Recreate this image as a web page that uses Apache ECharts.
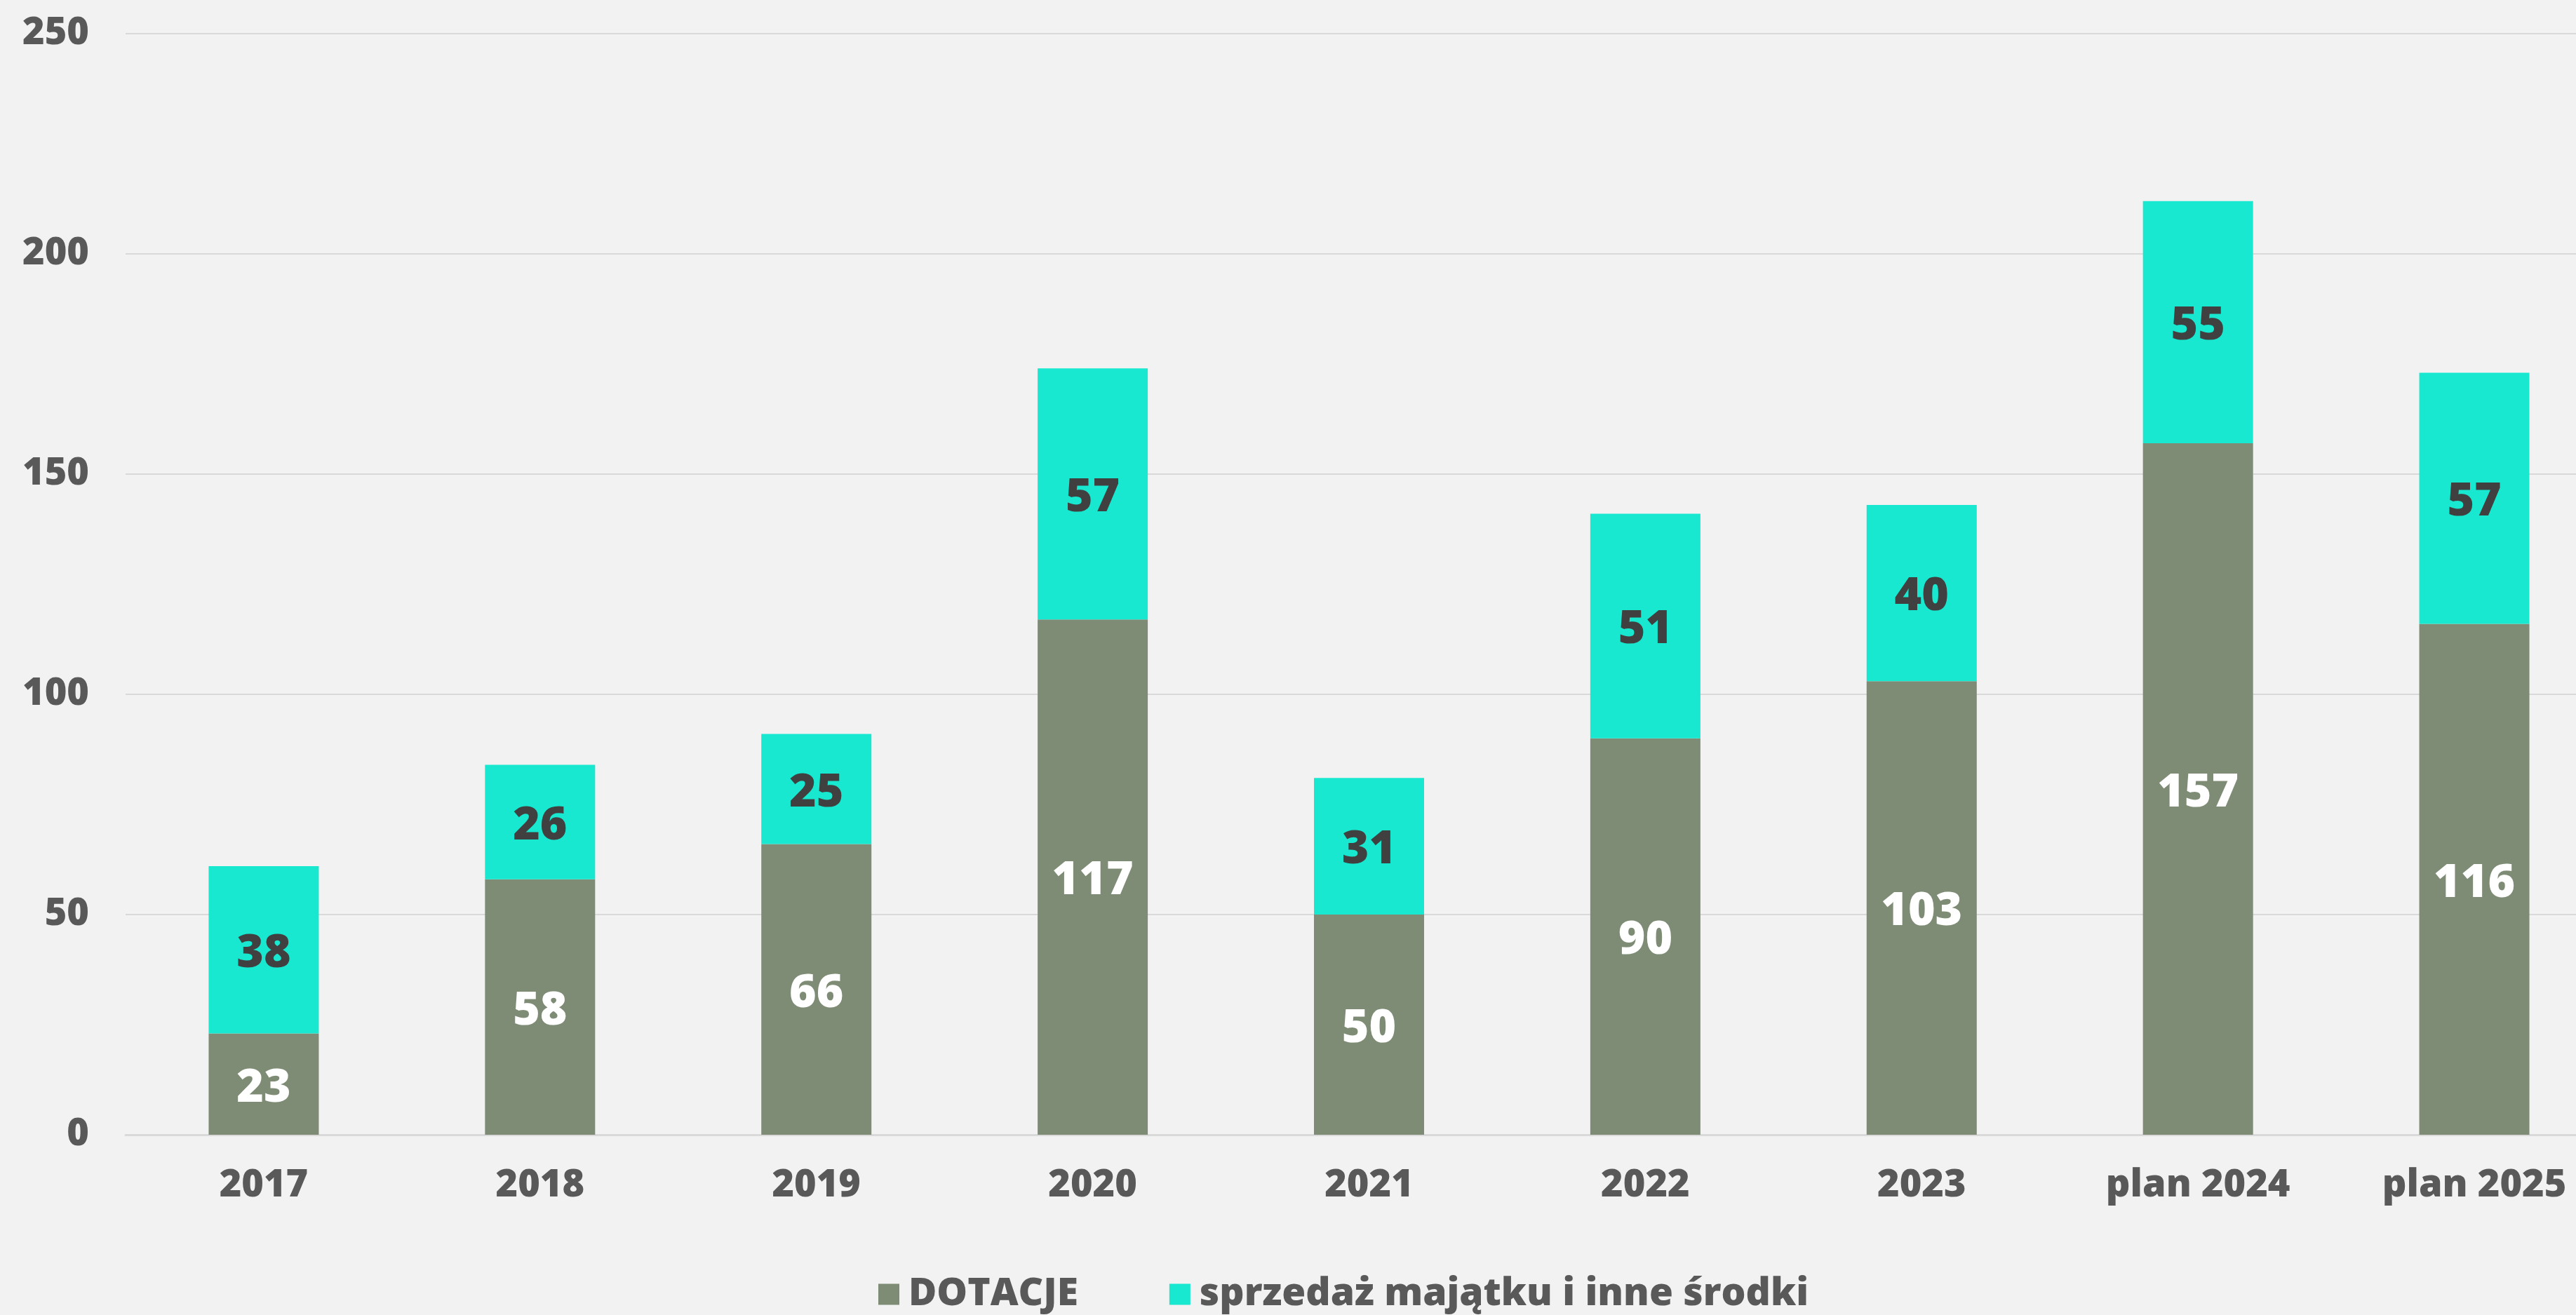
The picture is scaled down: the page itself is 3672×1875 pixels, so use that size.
<!DOCTYPE html>
<html>
<head>
<meta charset="utf-8">
<script src="https://cdn.jsdelivr.net/npm/echarts@6/dist/echarts.min.js"></script>
<style>
  html, body { margin: 0; padding: 0; background: #f2f2f2; }
  #chart { width: 3672px; height: 1875px; }
</style>
</head>
<body>
<div id="chart"></div>
<script>
// dane
const categories = ['2017', '2018', '2019', '2020', '2021', '2022', '2023', 'plan 2024', 'plan 2025'];
const dotacje = [23, 58, 66, 117, 50, 90, 103, 157, 116];
const sprzedaz = [38, 26, 25, 57, 31, 51, 40, 55, 57];
const yTicks = [0, 50, 100, 150, 200, 250];

const FONT = '"Open Sans", "DejaVu Sans", sans-serif';

const chart = echarts.init(document.getElementById('chart'));

const option = {
  backgroundColor: '#f2f2f2',
  animation: false,
  grid: {
    left: 179,
    right: -52,
    top: 48,
    bottom: 1875 - 1618,
    outerBoundsMode: 'none',
    containLabel: false
  },
  legend: {
    left: 1252,
    top: 1818,
    padding: 0,
    itemWidth: 30,
    itemHeight: 30,
    itemGap: 130,
    icon: 'rect',
    textStyle: {
      fontFamily: FONT,
      fontWeight: 800,
      fontSize: 55,
      lineHeight: 55,
      color: '#595959',
      padding: [0, 0, 0, 8]
    },
    data: ['DOTACJE', 'sprzedaż majątku i inne środki']
  },
  xAxis: {
    type: 'category',
    data: categories,
    axisLine: { lineStyle: { color: '#d9d9d9', width: 3 } },
    axisTick: { show: false },
    axisLabel: {
      margin: 46,
      fontFamily: FONT,
      fontWeight: 800,
      fontSize: 54,
      color: '#595959'
    }
  },
  yAxis: {
    type: 'value',
    min: yTicks[0],
    max: yTicks[yTicks.length - 1],
    interval: 50,
    axisLine: { show: false },
    axisTick: { show: false },
    splitLine: { lineStyle: { color: '#d9d9d9', width: 2 } },
    axisLabel: {
      margin: 52,
      fontFamily: FONT,
      fontWeight: 800,
      fontSize: 54,
      color: '#595959'
    }
  },
  series: [
    {
      name: 'DOTACJE',
      type: 'bar',
      stack: 'total',
      barWidth: 157,
      data: dotacje,
      itemStyle: { color: '#7f8c75' },
      label: {
        show: true,
        position: 'inside',
        offset: [0, 6],
        fontFamily: FONT,
        fontWeight: 800,
        fontSize: 66,
        color: '#ffffff'
      }
    },
    {
      name: 'sprzedaż majątku i inne środki',
      type: 'bar',
      stack: 'total',
      barWidth: 157,
      data: sprzedaz,
      itemStyle: { color: '#17e8cf' },
      label: {
        show: true,
        position: 'inside',
        offset: [0, 6],
        fontFamily: FONT,
        fontWeight: 800,
        fontSize: 66,
        color: '#404040'
      }
    }
  ]
};

chart.setOption(option);
</script>
</body>
</html>
